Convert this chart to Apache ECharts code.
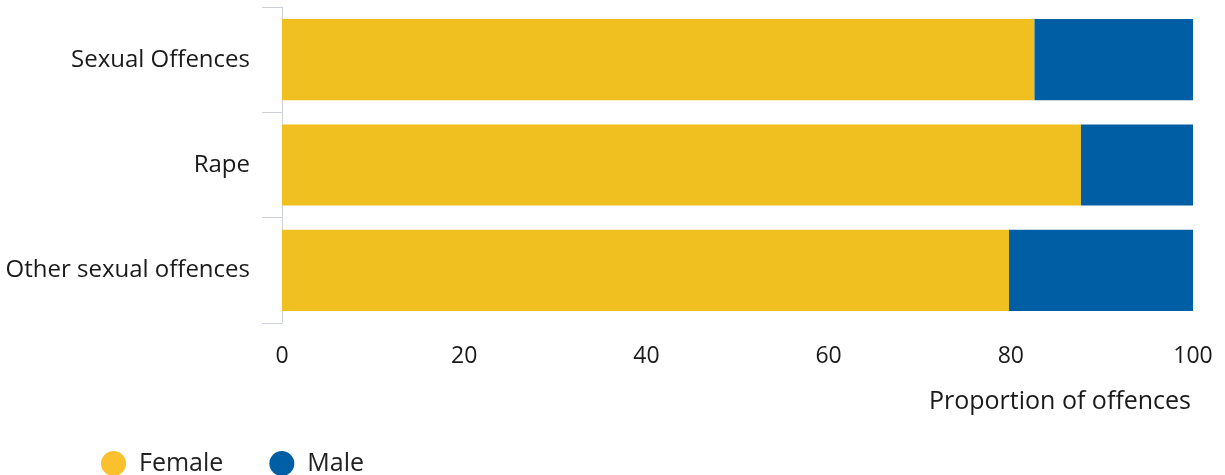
<!DOCTYPE html>
<html>
<head>
<meta charset="utf-8">
<script src="https://cdn.jsdelivr.net/npm/echarts@6/dist/echarts.min.js"></script>
<style>html,body{margin:0;padding:0;background:#fff}#c{width:1225px;height:475px}</style>
</head>
<body>
<div id="c"></div>
<script>
const categories = ['Sexual Offences', 'Rape', 'Other sexual offences'];
const female = [82.6, 87.7, 79.8];
const male = [17.4, 12.3, 20.2];
const xTicks = [0, 20, 40, 60, 80, 100];

const chart = echarts.init(document.getElementById('c'), null, {renderer: 'canvas'});
const font = '"Open Sans", "Noto Sans", sans-serif';
chart.setOption({
  animation: false,
  textStyle: {fontFamily: font},
  grid: {left: 282, right: 32, top: 7, bottom: 152},
  legend: {
    data: [{name: 'Female', itemStyle: {color: '#FBC02D'}}, {name: 'Male', itemStyle: {color: '#005EA5'}}],
    icon: 'circle', left: 96, top: 446, itemWidth: 25, itemHeight: 25, itemGap: 46,
    textStyle: {fontSize: 25, color: '#222', fontFamily: font, padding: [0, 0, 0, 8]}
  },
  title: {
    text: 'Proportion of offences', right: 29, top: 384,
    textStyle: {fontSize: 25, fontWeight: 'normal', color: '#1a1a1a', fontFamily: font}
  },
  xAxis: {
    type: 'value', min: 0, max: 100, interval: 20,
    axisLine: {show: false}, axisTick: {show: false},
    splitLine: {show: false},
    axisLabel: {fontSize: 23, color: '#1a1a1a', margin: 22, fontFamily: font,
      formatter: v => xTicks.includes(v) ? String(v) : ''}
  },
  yAxis: {
    type: 'category', data: categories, inverse: true,
    axisLine: {show: true, lineStyle: {color: '#ccd0d8', width: 1}},
    axisTick: {show: true, length: 20, lineStyle: {color: '#ccd0d8'}},
    axisLabel: {fontSize: 24, color: '#1a1a1a', margin: 32, fontFamily: font, padding: [8, 0, 0, 0]}
  },
  series: [
    {name: 'Female', type: 'bar', stack: 's', data: female, barCategoryGap: '23%',
      itemStyle: {color: '#F0C020'}},
    {name: 'Male', type: 'bar', stack: 's', data: male,
      itemStyle: {color: '#005EA5'}}
  ]
});
</script>
</body>
</html>
